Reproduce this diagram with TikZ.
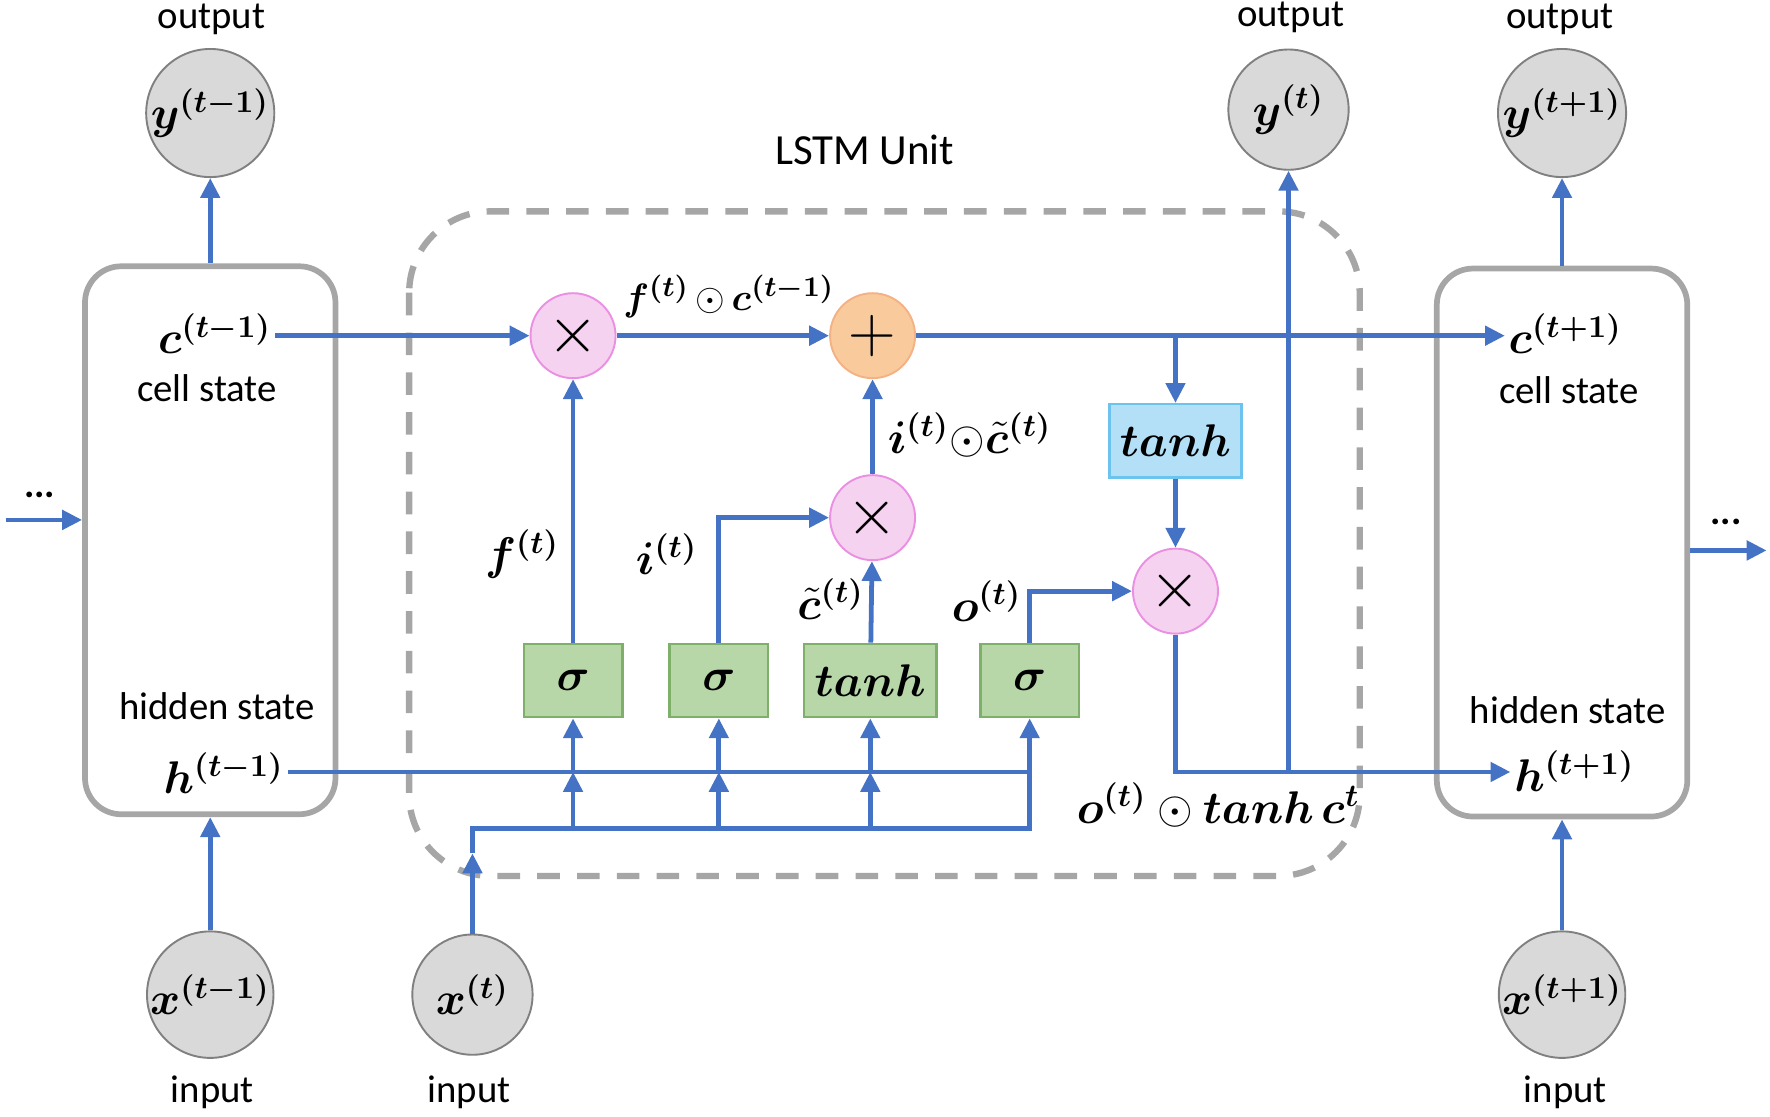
\documentclass[tikz,border=0pt]{standalone}
\usepackage{amsmath}
\usepackage{bm}
\usepackage{fontspec}
\setmainfont{Carlito}
\usetikzlibrary{arrows.meta}

\definecolor{lineblue}{HTML}{4472C4}
\definecolor{framegray}{HTML}{A6A6A6}
\definecolor{iofill}{HTML}{D9D9D9}
\definecolor{iodraw}{HTML}{808080}
\definecolor{mulfill}{HTML}{F6D2F1}
\definecolor{muldraw}{HTML}{EB8FE2}
\definecolor{addfill}{HTML}{F9CB9C}
\definecolor{adddraw}{HTML}{F4B183}
\definecolor{gatefill}{HTML}{B7D7A8}
\definecolor{gatedraw}{HTML}{7FB069}
\definecolor{actfill}{HTML}{B3E0F6}
\definecolor{actdraw}{HTML}{6CC3EE}

\tikzset{
  flow/.style={draw=lineblue, line width=1.5pt},
  arr/.style={flow, -{Triangle[length=2.2mm,width=2.1mm]}},
  io/.style={circle, draw=iodraw, fill=iofill, line width=0.6pt, minimum size=13.3mm, inner sep=0pt, font=\fontsize{14}{16}\selectfont},
  state/.style={draw=framegray, line width=1.8pt, rounded corners=4mm, minimum width=27.7mm, minimum height=60.6mm},
  unit/.style={draw=framegray, line width=2pt, dash pattern=on 2.5mm off 1.9mm, rounded corners=9mm},
  mul/.style={circle, draw=muldraw, fill=mulfill, line width=0.6pt, minimum size=9.4mm, inner sep=0pt, font=\fontsize{20}{20}\selectfont},
  add/.style={mul, draw=adddraw, fill=addfill},
  gate/.style={rectangle, draw=gatedraw, fill=gatefill, line width=0.8pt, minimum width=10.9mm, minimum height=8.1mm, font=\fontsize{14}{16}\selectfont},
  act/.style={gate, draw=actdraw, fill=actfill, minimum width=12.9mm},
  lbl/.style={font=\fontsize{14}{16}\selectfont, inner sep=1pt}
}

\begin{document}
\begin{tikzpicture}[x=0.125mm,y=-0.125mm,font=\fontsize{12.2}{14}\selectfont]
\useasboundingbox (0,0) rectangle (1566,988);

% dashed frame of the unit
\draw[unit] (362,187) rectangle (1203,775);
\node (title) at (765,133) {\fontsize{13.5}{16}\selectfont LSTM Unit};

% previous and next time steps
\node[state] (cellprev) at (186,478) {};
\node[state] (cellnext) at (1382,480) {};
\node[lbl] (cprev) at (190,295) {$\bm{c}^{\bm{(t-1)}}$};
\node (csprev) at (183,343) {cell state};
\node (hsprev) at (192,625) {hidden state};
\node[lbl] (hprev) at (198,684) {$\bm{h}^{\bm{(t-1)}}$};
\node[lbl] (cnext) at (1385,295) {$\bm{c}^{\bm{(t+1)}}$};
\node (csnext) at (1388,345) {cell state};
\node (hsnext) at (1387,628) {hidden state};
\node[lbl] (hnext) at (1393,682) {$\bm{h}^{\bm{(t+1)}}$};

% outputs
\node[io] (yprev) at (186,100) {$\bm{y}^{\bm{(t-1)}}$};
\node[io] (ycur) at (1140,97) {$\bm{y}^{\bm{(t)}}$};
\node[io] (ynext) at (1382,100) {$\bm{y}^{\bm{(t+1)}}$};
\node (oprev) at (187,17) {output};
\node (ocur) at (1142,15) {output};
\node (onext) at (1380,17) {output};

% inputs
\node[io] (xprev) at (186,880) {$\bm{x}^{\bm{(t-1)}}$};
\node[io] (xcur) at (418,880) {$\bm{x}^{\bm{(t)}}$};
\node[io] (xnext) at (1382,880) {$\bm{x}^{\bm{(t+1)}}$};
\node (iprev) at (188,966) {input};
\node (icur) at (415,966) {input};
\node (inext) at (1385,966) {input};

% dots
\node (dotsl) at (35,438) {\textbf{...}};
\node (dotsr) at (1527,462) {\textbf{...}};
\coordinate (inl) at (5,460);
\coordinate (outr) at (1563,487);

% pointwise operations
\node[mul] (mulf) at (507,297) {$\times$};
\node[add] (add) at (772,297) {$+$};
\node[mul] (muli) at (772,458) {$\times$};
\node[mul] (mulo) at (1040,523) {$\times$};
\node[act] (tanhc) at (1040,390) {$\bm{tanh}$};

% gates
\node[gate] (sigf) at (507,602) {$\bm{\sigma}$};
\node[gate] (sigi) at (636,602) {$\bm{\sigma}$};
\node[gate, minimum width=12.9mm] (tanhi) at (770,602) {$\bm{tanh}$};
\node[gate] (sigo) at (911,602) {$\bm{\sigma}$};

% labels
\node[lbl] (flbl) at (462,490) {$\bm{f}^{\bm{(t)}}$};
\node[lbl] (ilbl) at (590,490) {$\bm{i}^{\bm{(t)}}$};
\node[lbl] (ctlbl) at (735,530) {$\tilde{\bm{c}}^{\bm{(t)}}$};
\node[lbl] (olbl) at (873,532) {$\bm{o}^{\bm{(t)}}$};
\node[lbl, font=\fontsize{13}{15}\selectfont] (fclbl) at (645,262) {$\bm{f}^{\bm{(t)}}\,{\odot}\,\bm{c}^{\bm{(t-1)}}$};
\node[lbl] (iclbl) at (858,385) {$\bm{i}^{\bm{(t)}}{\odot}\tilde{\bm{c}}^{\bm{(t)}}$};
\node[lbl] (hlbl) at (1078,712) {$\bm{o}^{\bm{(t)}}\odot\bm{tanh}\,\bm{c}^{\bm{t}}$};

% outer connections
\draw[arr] (xprev) -- (cellprev);
\draw[arr] (cellprev) -- (yprev);
\draw[arr] (xnext) -- (cellnext);
\draw[arr] (cellnext) -- (ynext);
\draw[arr] (inl) -- (inl -| cellprev.west);
\draw[arr] (outr -| cellnext.east) -- (outr);

% cell state
\draw[arr] (cprev.east |- mulf) -- (mulf);
\draw[arr] (mulf) -- (add);
\draw[arr] (add) -- (cnext.west |- add);
\coordinate (tap) at (tanhc |- add);
\draw[arr] (tap) -- (tanhc);
\draw[arr] (tanhc) -- (mulo);

% hidden state
\coordinate (hout) at (1140,683);
\draw[arr] (mulo) |- (hnext.west |- hout);
\draw[arr] (hout) -- (ycur);

% gate outputs
\draw[arr] (sigf) -- (mulf);
\draw[arr] (sigi) |- (muli);
\draw[arr] (tanhi) -- (muli);
\draw[arr] (muli) -- (add);
\draw[arr] (sigo) |- (mulo);

% gate inputs
\coordinate (hend) at (911,683);
\coordinate (xmid) at (418,755);
\draw[flow] (hprev.east |- hend) -- (hend);
\draw[arr] (xcur) -- (xmid);
\draw[flow] (xmid) -- (418,733) -- (911,733) -- (hend);
\foreach \g in {sigf,sigi,tanhi} {
    \draw[arr] (\g |- 0,733) -- (\g |- hend);
    \draw[arr] (\g |- hend) -- (\g);
}
\draw[arr] (hend) -- (sigo);

\end{tikzpicture}
\end{document}
